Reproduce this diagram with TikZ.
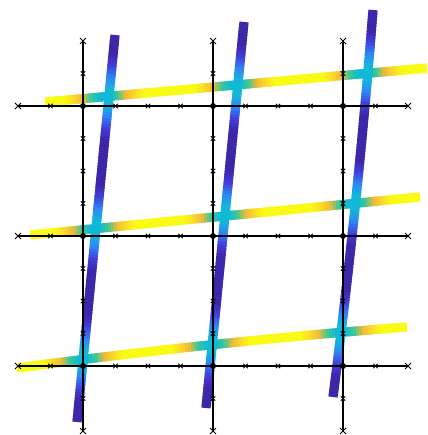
\documentclass[tikz,border=0pt]{standalone}
\definecolor{pa0}{rgb}{0.2422,0.1504,0.6603}
\definecolor{pa1}{rgb}{0.2600,0.2400,0.8600}
\definecolor{pa2}{rgb}{0.1786,0.5289,0.9682}
\definecolor{pa3}{rgb}{0.0689,0.7248,0.8394}
\definecolor{pa4}{rgb}{0.2161,0.7843,0.5923}
\definecolor{pa5}{rgb}{0.9500,0.7300,0.2200}
\definecolor{pa6}{rgb}{0.9800,0.8600,0.1600}
\definecolor{pa7}{rgb}{0.9769,0.9839,0.0805}
\newcommand{\setvcolor}[1]{%
  \pgfmathsetmacro\vvv{max(0,min(0.9999,#1))*7}%
  \pgfmathtruncatemacro\segA{floor(\vvv)}%
  \pgfmathtruncatemacro\segB{\segA+1}%
  \pgfmathsetmacro\mixp{(\vvv-\segA)*100}%
  \colorlet{cc}{pa\segB!\mixp!pa\segA}%
}
% #1..#6 = A, C, B of a quadratic curve; #7 = colour value in terms of \px,\py; #8 = segments
\newcommand{\gradcurve}[8]{%
  \foreach \i in {1,...,#8}{%
    \pgfmathsetmacro\ta{(\i-1)/#8}%
    \pgfmathsetmacro\tb{min(1,(\i+0.6)/#8)}%
    \pgfmathsetmacro\tm{(\i-0.5)/#8}%
    \pgfmathsetmacro\xa{(1-\ta)^2*#1+2*\ta*(1-\ta)*#3+\ta^2*#5}%
    \pgfmathsetmacro\ya{(1-\ta)^2*#2+2*\ta*(1-\ta)*#4+\ta^2*#6}%
    \pgfmathsetmacro\xb{(1-\tb)^2*#1+2*\tb*(1-\tb)*#3+\tb^2*#5}%
    \pgfmathsetmacro\yb{(1-\tb)^2*#2+2*\tb*(1-\tb)*#4+\tb^2*#6}%
    \pgfmathsetmacro\px{(1-\tm)^2*#1+2*\tm*(1-\tm)*#3+\tm^2*#5}%
    \pgfmathsetmacro\py{(1-\tm)^2*#2+2*\tm*(1-\tm)*#4+\tm^2*#6}%
    \setvcolor{#7}%
    \draw[colband, draw=cc] (\xa,\ya) -- (\xb,\yb);
  }%
}
\begin{document}
\begin{tikzpicture}[x=1pt,y=-1pt,
  colband/.style={line width=9.2pt, line cap=butt},
  gridline/.style={black, line width=1.5pt},
  tickmark/.style={black, line width=0.9pt},
  endmark/.style={black, line width=1pt}]
\useasboundingbox (0,0) rectangle (427,435);
% horizontal coloured bands
\gradcurve{45}{102}{236}{85}{427}{68}{3/7+4/7*min(1,max(0,min(abs(\px-104),abs(\px-235),abs(\px-363))-4)/36)}{130}
\gradcurve{30}{235}{225}{216}{420}{197}{3/7+4/7*min(1,max(0,min(abs(\px-95),abs(\px-224),abs(\px-352))-4)/36)}{130}
\gradcurve{17}{368}{212}{342}{407}{327}{3/7+4/7*min(1,max(0,min(abs(\px-83),abs(\px-211),abs(\px-341))-4)/36)}{130}
% vertical coloured bands
\gradcurve{115}{35}{96}{228}{77}{422}{3/7*(1-min(1,max(0,min(abs(\py-97),abs(\py-228),abs(\py-358))-7)/36))}{130}
\gradcurve{244}{22}{225}{215}{206}{408}{3/7*(1-min(1,max(0,min(abs(\py-88),abs(\py-214),abs(\py-345))-7)/36))}{130}
\gradcurve{373}{10}{358}{203}{333}{397}{3/7*(1-min(1,max(0,min(abs(\py-73),abs(\py-203),abs(\py-333))-7)/36))}{130}
% grid lines
\foreach \gx [count=\c] in {83,213,343} {
  \coordinate (vt\c) at (\gx,41);
  \coordinate (vb\c) at (\gx,431);
  \draw[gridline] (vt\c) -- (vb\c);
}
\foreach \gy [count=\c] in {106,236,366} {
  \coordinate (hl\c) at (18,\gy);
  \coordinate (hr\c) at (408,\gy);
  \draw[gridline] (hl\c) -- (hr\c);
}
% tick marks
\foreach \gy in {106,236,366} {
  \foreach \k in {1,3,4,5,7,8,9,11} {
    \pgfmathsetmacro\tx{18+32.5*\k}
    \draw[tickmark] (\tx-2.2,\gy-2.2) -- (\tx+2.2,\gy+2.2) (\tx-2.2,\gy+2.2) -- (\tx+2.2,\gy-2.2);
  }
  \foreach \tx in {18,408} {
    \draw[endmark] (\tx-3,\gy-3) -- (\tx+3,\gy+3) (\tx-3,\gy+3) -- (\tx+3,\gy-3);
  }
}
\foreach \gx in {83,213,343} {
  \foreach \k in {1,3,4,5,7,8,9,11} {
    \pgfmathsetmacro\ty{41+32.5*\k}
    \draw[tickmark] (\gx-2.2,\ty-2.2) -- (\gx+2.2,\ty+2.2) (\gx-2.2,\ty+2.2) -- (\gx+2.2,\ty-2.2);
  }
  \foreach \ty in {41,431} {
    \draw[endmark] (\gx-3,\ty-3) -- (\gx+3,\ty+3) (\gx-3,\ty+3) -- (\gx+3,\ty-3);
  }
}
% intersection dots
\foreach \gx in {83,213,343} {
  \foreach \gy in {106,236,366} {
    \fill[black] (\gx,\gy) circle (3pt);
  }
}
\end{tikzpicture}
\end{document}
